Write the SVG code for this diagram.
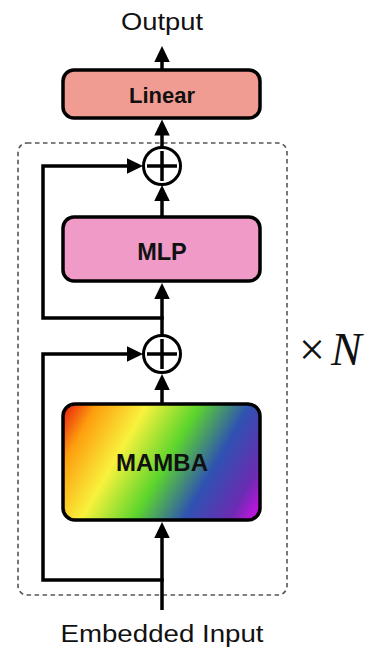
<svg xmlns="http://www.w3.org/2000/svg" width="376" height="648" viewBox="0 0 376 648">
  <style>
    .box { stroke: #000; stroke-width: 3.5; }
    .lbl { font-family: "Liberation Sans", Arial, sans-serif; font-weight: bold; fill: #111; text-anchor: middle; }
    .cap { font-family: "Liberation Sans", Arial, sans-serif; fill: #111; text-anchor: middle; }
    .wire { fill: none; stroke: #000; stroke-width: 3.5; }
    .sum { fill: #fff; stroke: #000; stroke-width: 3; }
    .cross { stroke: #000; stroke-width: 3.5; }
  </style>
  <defs>
    <marker id="head" markerUnits="userSpaceOnUse" markerWidth="16" markerHeight="16" refX="8" refY="7.75" orient="auto">
      <path d="M0,0 L16,7.75 L0,15.5 z" fill="#000"/>
    </marker>
    <linearGradient id="rainbow" gradientUnits="userSpaceOnUse" x1="63" y1="404" x2="261" y2="518">
      <stop offset="0" stop-color="#e8150e"/>
      <stop offset="0.13" stop-color="#fd9e0e"/>
      <stop offset="0.32" stop-color="#f8f23c"/>
      <stop offset="0.52" stop-color="#5cd52c"/>
      <stop offset="0.71" stop-color="#2f52b2"/>
      <stop offset="0.88" stop-color="#6a2cb2"/>
      <stop offset="1" stop-color="#dc0cec"/>
    </linearGradient>
  </defs>

  <!-- repeated block outline -->
  <rect x="18" y="143" width="269" height="452" rx="9" fill="none" stroke="#555" stroke-width="1.6" stroke-dasharray="4.5 3.5"/>

  <!-- connectors -->
  <g id="connectors">
    <line class="wire" x1="162" y1="70" x2="162" y2="54" marker-end="url(#head)"/>
    <line class="wire" x1="162" y1="147" x2="162" y2="127.5" marker-end="url(#head)"/>
    <line class="wire" x1="162" y1="217" x2="162" y2="193" marker-end="url(#head)"/>
    <line class="wire" x1="162" y1="336" x2="162" y2="291" marker-end="url(#head)"/>
    <line class="wire" x1="162" y1="404" x2="162" y2="382" marker-end="url(#head)"/>
    <line class="wire" x1="162" y1="610" x2="162" y2="530" marker-end="url(#head)"/>
    <path class="wire" d="M163.75,318 H43 V166 H135" marker-end="url(#head)"/>
    <path class="wire" d="M163.75,580 H43 V354 H135" marker-end="url(#head)"/>
  </g>

  <g id="output">
    <text class="cap" x="162" y="30" font-size="23" textLength="82" lengthAdjust="spacingAndGlyphs">Output</text>
  </g>

  <g id="linear">
    <rect class="box" x="63" y="70" width="197" height="48" rx="11" fill="#f19c92"/>
    <text class="lbl" x="162" y="102.5" font-size="22">Linear</text>
  </g>

  <g id="add-top">
    <circle class="sum" cx="162" cy="166" r="18.5"/>
    <line class="cross" x1="147" y1="166" x2="177" y2="166"/>
    <line class="cross" x1="162" y1="151" x2="162" y2="181"/>
  </g>

  <g id="mlp">
    <rect class="box" x="63" y="217" width="197" height="64" rx="11" fill="#ef9ac7"/>
    <text class="lbl" x="162" y="259.5" font-size="23.5">MLP</text>
  </g>

  <g id="add-bottom">
    <circle class="sum" cx="162" cy="354" r="18.5"/>
    <line class="cross" x1="147" y1="354" x2="177" y2="354"/>
    <line class="cross" x1="162" y1="339" x2="162" y2="369"/>
  </g>

  <g id="mamba">
    <rect class="box" x="63" y="404" width="197" height="116" rx="12" fill="url(#rainbow)"/>
    <text class="lbl" x="162" y="471" font-size="24">MAMBA</text>
  </g>

  <g id="input">
    <text class="cap" x="162" y="642" font-size="23" textLength="203" lengthAdjust="spacingAndGlyphs">Embedded Input</text>
  </g>

  <g id="repeat">
    <text x="299" y="365" font-family="'Liberation Serif', 'Times New Roman', serif" font-size="46" fill="#111">×<tspan dx="6" font-style="italic">N</tspan></text>
  </g>
</svg>
